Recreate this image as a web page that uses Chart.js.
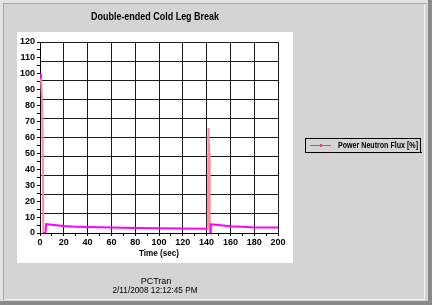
<!DOCTYPE html>
<html><head><meta charset="utf-8">
<script src="https://cdn.jsdelivr.net/npm/chart.js@4"></script>
<style>html,body{margin:0;padding:0;background:#d4d4d4;overflow:hidden}canvas{display:block}</style>
</head><body>
<canvas id="c" width="432" height="305"></canvas>
<script>
const chartTitle = "Double-ended Cold Leg Break";
const xTitle = "Time (sec)";
const footerLines = ["PCTran", "2/11/2008 12:12:45 PM"];
const seriesName = "Power Neutron Flux [%]";
const times = [0, 0.8, 1.6, 2.2, 2.8, 4.6, 5.2, 10, 20, 30, 40, 60, 80, 100, 120, 140, 141, 141.6, 142.2, 142.6, 143, 143.5, 150, 160, 170, 180, 190, 200];
const flux  = [100, 97, 86, 57, 0, 0, 5.6, 5.2, 4.4, 4.0, 3.7, 3.4, 3.1, 3.0, 2.8, 2.6, 2.6, 66, 50, 0, 0, 5.5, 5.0, 4.3, 3.9, 3.5, 3.4, 3.4];
const yTickLabels = [0,10,20,30,40,50,60,70,80,90,100,110,120];
const xTickLabels = [0,20,40,60,80,100,120,140,160,180,200];

const FONT = "'Liberation Sans', Arial, sans-serif";
const points = times.map((t, i) => ({x: t, y: flux[i]}));

// draw text with given font, squeezed horizontally if wider than maxW
function drawFit(c, text, font, x, y, maxW, align) {
  c.save();
  c.font = font;
  c.textAlign = align; c.textBaseline = 'middle';
  const w = c.measureText(text).width;
  const k = w > maxW ? maxW / w : 1;
  c.translate(x, y); c.scale(k, 1);
  c.fillText(text, 0, 0);
  c.restore();
}

const frame = {
  id: 'frame',
  beforeDraw(chart) {
    const c = chart.ctx;
    c.save();
    c.fillStyle = '#d4d4d4'; c.fillRect(0, 0, 432, 305);
    c.fillStyle = '#e2e2e2'; c.fillRect(0, 0, 432, 3); c.fillRect(0, 0, 3, 305);
    c.fillStyle = '#a8a8a8'; c.fillRect(3, 3, 424, 1); c.fillRect(3, 3, 1, 297);
    c.fillStyle = '#f4f4f4'; c.fillRect(424, 4, 1, 296); c.fillRect(4, 299, 421, 1);
    c.fillStyle = '#8a8a8a'; c.fillRect(428, 0, 4, 305); c.fillRect(0, 301, 432, 4);
    c.fillStyle = '#ffffff'; c.fillRect(17, 32, 276, 231);
    c.restore();
  },
  afterDraw(chart) {
    const c = chart.ctx;
    c.save();
    c.fillStyle = '#000';
    drawFit(c, chartTitle, 'bold 11px ' + FONT, 155, 17, 128, 'center');
    const ca = chart.chartArea;
    drawFit(c, xTitle, 'bold 9px ' + FONT, (ca.left + ca.right) / 2, 254, 40, 'center');
    drawFit(c, footerLines[0], '9px ' + FONT, 156, 282, 60, 'center');
    drawFit(c, footerLines[1], '9px ' + FONT, 155, 291, 85, 'center');
    // legend
    c.strokeStyle = '#000'; c.lineWidth = 1;
    c.strokeRect(305.5, 138.5, 115, 14);
    c.fillStyle = '#000'; c.fillRect(306, 152, 116, 1); c.fillRect(420, 139, 1, 14);
    const ds = chart.data.datasets[0];
    c.strokeStyle = '#e8407a'; c.lineWidth = 1;
    c.beginPath(); c.moveTo(310, 145.5); c.lineTo(331, 145.5); c.stroke();
    c.fillStyle = '#e8407a'; c.fillRect(320, 144, 2, 3);
    c.fillStyle = '#000';
    drawFit(c, ds.label, 'bold 9px ' + FONT, 338, 146, 80, 'left');
    c.restore();
  }
};

new Chart(document.getElementById('c'), {
  type: 'line',
  data: { datasets: [{
    label: seriesName,
    data: points,
    borderColor: '#ff00ff',
    borderWidth: 2,
    pointRadius: 0,
    tension: 0,
    segment: { borderColor: ctx => Math.abs(ctx.p1.parsed.y - ctx.p0.parsed.y) > 10 ? '#ff8a9a' : '#ff00ff' }
  }]},
  options: {
    responsive: false, animation: false, devicePixelRatio: 1,
    layout: { padding: { left: 0, top: 42, right: 154, bottom: 0 } },
    plugins: { legend: { display: false }, title: { display: false }, tooltip: { enabled: false } },
    scales: {
      x: {
        type: 'linear', min: 0, max: 200,
        afterFit(s) { s.height = 72; },
        afterBuildTicks(s) { const t = []; for (let v = 0; v <= 200; v += 10) t.push({value: v}); s.ticks = t; },
        ticks: { autoSkip: false, maxRotation: 0, padding: 1, color: '#000',
          font: { family: FONT, size: 9, weight: 'bold' },
          callback: v => xTickLabels.includes(v) ? String(v) : '' },
        grid: { color: ctx => (ctx.tick && ctx.tick.value % 20 === 0) ? '#1a1a1a' : 'rgba(0,0,0,0)',
                tickColor: '#000', tickLength: 3, lineWidth: 1 },
        border: { color: '#000', width: 1 }
      },
      y: {
        type: 'linear', min: 0, max: 120, position: 'left',
        afterFit(s) { s.width = 40; },
        afterBuildTicks(s) { const t = []; for (let v = 0; v <= 120; v += 5) t.push({value: v}); s.ticks = t; },
        ticks: { autoSkip: false, padding: 2, color: '#000',
          font: { family: FONT, size: 9, weight: 'bold' },
          callback: v => yTickLabels.includes(v) ? String(v) : '' },
        grid: { drawOnChartArea: false, tickColor: '#000', tickLength: 3 },
        border: { color: '#000', width: 1 }
      },
      yg: {
        type: 'linear', min: 0, max: 120, position: 'right',
        afterFit(s) { s.width = 0; },
        afterBuildTicks(s) { const t = []; for (let v = 0; v <= 120; v += 12) t.push({value: v}); s.ticks = t; },
        ticks: { display: false },
        grid: { color: '#1a1a1a', drawTicks: false, lineWidth: 1 },
        border: { display: true, color: '#1a1a1a' }
      }
    }
  },
  plugins: [frame]
});
</script>
</body></html>
